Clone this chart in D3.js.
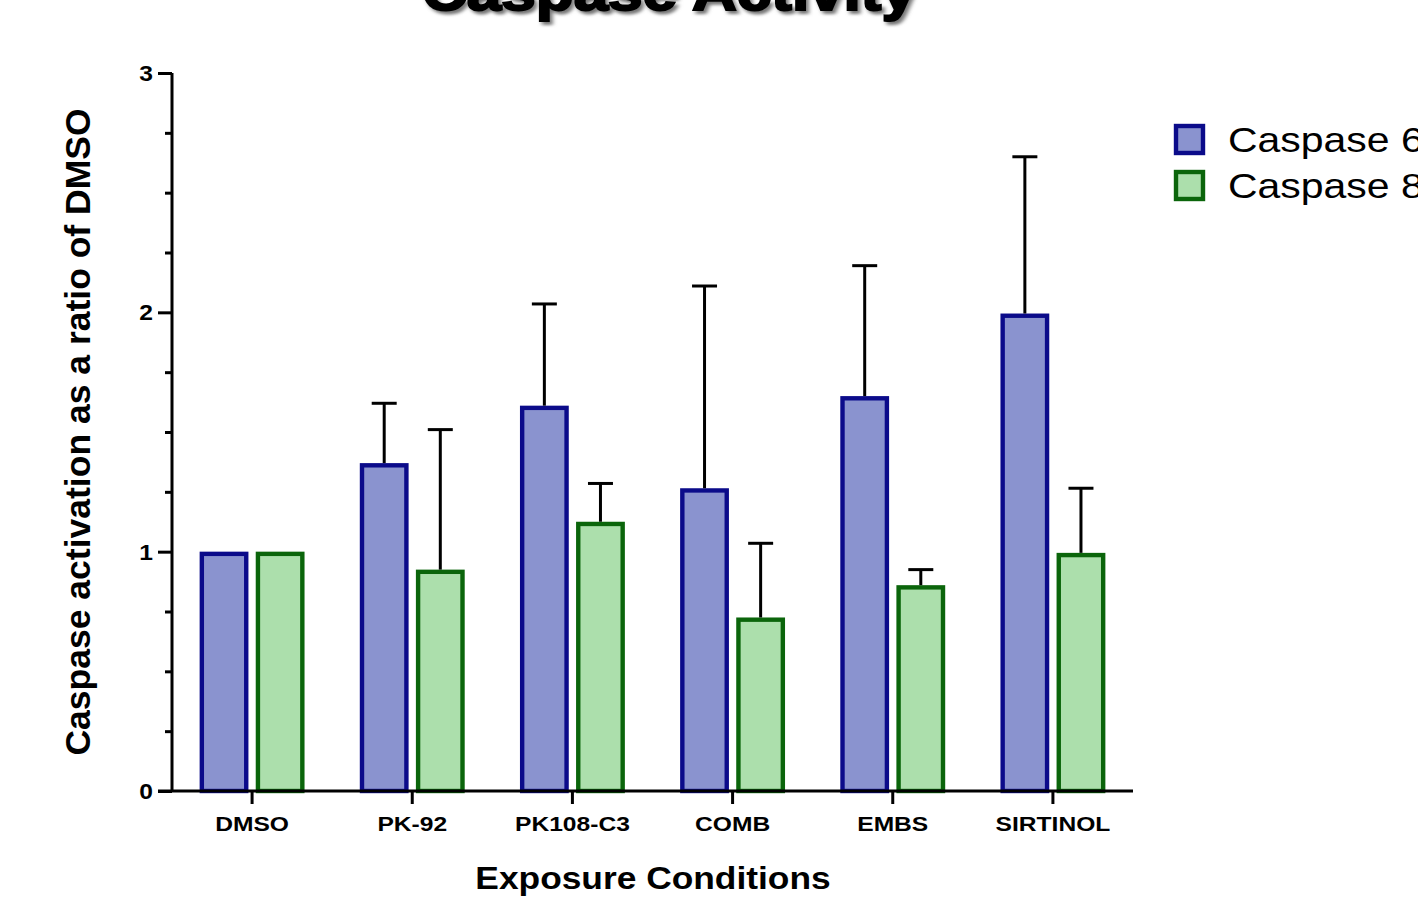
<!DOCTYPE html>
<html>
<head>
<meta charset="utf-8">
<script src="https://cdn.jsdelivr.net/npm/d3@7"></script>
<style>
  html, body { margin: 0; padding: 0; background: #ffffff; }
  svg { display: block; font-family: "Liberation Sans", Arial, sans-serif; }
</style>
</head>
<body>
<svg id="chart" width="1418" height="897"></svg>
<script>
// ---- data ----
const categories = ["DMSO", "PK-92", "PK108-C3", "COMB", "EMBS", "SIRTINOL"];
const seriesNames = ["Caspase 6", "Caspase 8"];
const caspase6 = [1.0, 1.37, 1.61, 1.265, 1.65, 1.995];
const caspase6Err = [0, 0.25, 0.425, 0.845, 0.545, 0.655];
const caspase8 = [1.0, 0.925, 1.125, 0.725, 0.86, 0.995];
const caspase8Err = [0, 0.585, 0.16, 0.31, 0.065, 0.27];
const yTicks = [0, 1, 2, 3];

// ---- layout ----
const svg = d3.select("#chart");
const X0 = 172, X1 = 1133, Y0 = 791, Y1 = 73;
const fills = ["#8a93cf", "#acdfac"];
const strokes = ["#0b0b8a", "#0b650b"];
const SW = 4.4;

const x = d3.scaleBand().domain(categories).range([X0, X1]).paddingInner(0.345).paddingOuter(0.1725);
const xs = d3.scaleBand().domain(seriesNames).range([0, x.bandwidth()]).paddingInner(0.13);
const y = d3.scaleLinear().domain([0, 3]).range([Y0, Y1]);

const rows = [];
categories.forEach((c, i) => {
  rows.push({ cat: c, s: seriesNames[0], si: 0, v: caspase6[i], e: caspase6Err[i] });
  rows.push({ cat: c, s: seriesNames[1], si: 1, v: caspase8[i], e: caspase8Err[i] });
});

// stretched text helper
function stext(g, txt, tx, ty, size, sx, anchor, weight) {
  return g.append("text")
    .attr("transform", `translate(${tx},${ty}) scale(${sx},1)`)
    .attr("text-anchor", anchor)
    .attr("font-size", size)
    .attr("font-weight", weight)
    .attr("fill", "#000")
    .text(txt);
}

// ---- title with shadow ----
const defs = svg.append("defs");
defs.append("filter").attr("id", "blur").attr("x", "-10%").attr("y", "-50%").attr("width", "120%").attr("height", "200%")
  .append("feGaussianBlur").attr("stdDeviation", 1.8);
const tg = svg.append("g");
stext(tg, "Caspase Activity", 672, 13, 53, 1.17, "middle", "bold")
  .attr("fill", "#777").attr("stroke", "#777").attr("stroke-width", 2).attr("filter", "url(#blur)");
stext(tg, "Caspase Activity", 669, 10, 53, 1.17, "middle", "bold")
  .attr("stroke", "#000").attr("stroke-width", 2);

// ---- bars ----
const barG = svg.append("g");
barG.selectAll("rect.bar").data(rows).join("rect")
  .attr("class", "bar")
  .attr("x", d => x(d.cat) + xs(d.s) + SW / 2)
  .attr("width", xs.bandwidth() - SW)
  .attr("y", d => y(d.v) + SW / 2)
  .attr("height", d => y(0) - y(d.v) - SW / 2)
  .attr("fill", d => fills[d.si])
  .attr("stroke", d => strokes[d.si])
  .attr("stroke-width", SW);

// ---- error bars ----
const errRows = rows.filter(d => d.e > 0);
const eg = svg.append("g").attr("stroke", "#000").attr("stroke-width", 3);
eg.selectAll("line.stem").data(errRows).join("line")
  .attr("x1", d => x(d.cat) + xs(d.s) + xs.bandwidth() / 2)
  .attr("x2", d => x(d.cat) + xs(d.s) + xs.bandwidth() / 2)
  .attr("y1", d => y(d.v))
  .attr("y2", d => y(d.v + d.e));
eg.selectAll("line.cap").data(errRows).join("line")
  .attr("x1", d => x(d.cat) + xs(d.s) + xs.bandwidth() / 2 - 12.5)
  .attr("x2", d => x(d.cat) + xs(d.s) + xs.bandwidth() / 2 + 12.5)
  .attr("y1", d => y(d.v + d.e))
  .attr("y2", d => y(d.v + d.e));

// ---- y axis ----
const yAxisG = svg.append("g").attr("transform", `translate(${X0},0)`);
const yAxis = d3.axisLeft(y).tickValues(yTicks).tickSize(14).tickFormat("");
yAxisG.call(yAxis);
const yMinor = d3.axisLeft(y).tickValues(d3.range(0, 3.01, 0.25).filter(v => Math.abs(v - Math.round(v)) > 1e-6)).tickSize(7).tickFormat("");
yAxisG.append("g").call(yMinor).select(".domain").remove();
yAxisG.selectAll(".domain").attr("d", `M0,${Y0}V${Y1}`);
yAxisG.selectAll("line, path").attr("stroke", "#000").attr("stroke-width", 3);
yTicks.forEach(t => {
  stext(svg, String(t), 153, y(t) + 8, 22, 1.12, "end", "bold");
});

// ---- x axis ----
const xAxisG = svg.append("g").attr("transform", `translate(0,${Y0})`);
xAxisG.call(d3.axisBottom(x).tickSize(13).tickFormat(""));
xAxisG.select(".domain").attr("d", `M${X0 - 14},0H${X1}`);
xAxisG.selectAll("line, path").attr("stroke", "#000").attr("stroke-width", 3);
categories.forEach(c => {
  stext(svg, c, x(c) + x.bandwidth() / 2, 831, 20.5, 1.2, "middle", "bold");
});

// ---- axis titles ----
stext(svg, "Exposure Conditions", 653, 889, 31, 1.14, "middle", "bold");
svg.append("text")
  .attr("transform", `translate(90,432) rotate(-90)`)
  .attr("text-anchor", "middle")
  .attr("font-size", 35.5)
  .attr("font-weight", "bold")
  .text("Caspase activation as a ratio of DMSO");

// ---- legend ----
const lg = svg.append("g");
seriesNames.forEach((s, i) => {
  lg.append("rect")
    .attr("x", 1176).attr("y", 126 + i * 46)
    .attr("width", 27).attr("height", 27)
    .attr("fill", fills[i]).attr("stroke", strokes[i]).attr("stroke-width", SW);
  stext(lg, s, 1228, 152 + i * 45.5, 35, 1.17, "start", "normal");
});
</script>
</body>
</html>
